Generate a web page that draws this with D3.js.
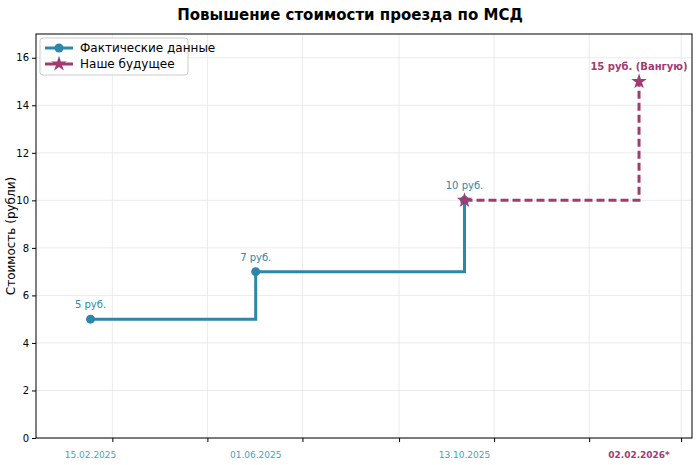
<!DOCTYPE html>
<html><head><meta charset="utf-8">
<script src="https://cdn.jsdelivr.net/npm/d3@7"></script>
<style>body{margin:0;background:#fff;font-family:"DejaVu Sans",sans-serif}</style>
</head><body><div id="chart"></div>
<script>
const factDates = ["2025-02-15", "2025-06-01", "2025-10-13"];
const factPrices = [5, 7, 10];
const factLabels = ["5 руб.", "7 руб.", "10 руб."];
const futureDates = ["2025-10-13", "2026-02-02"];
const futurePrices = [10, 15];
const futureLabel = "15 руб. (Вангую)";
const dateLabels = ["15.02.2025", "01.06.2025", "13.10.2025", "02.02.2026*"];
const yTicks = [0, 2, 4, 6, 8, 10, 12, 14, 16];

const blue = "#2e86ab", purple = "#a23b72";
const W = 700, H = 465, m = {top: 34, right: 8, bottom: 27, left: 36};
const parse = d3.timeParse("%Y-%m-%d");

const svg = d3.select("#chart").append("svg").attr("width", W).attr("height", H);
const x = d3.scaleTime().domain([parse("2025-01-11"), parse("2026-03-08")]).range([m.left, W - m.right]);
const y = d3.scaleLinear().domain([0, 17]).range([H - m.bottom, m.top]);

const xTickDates = d3.timeMonth.every(2).range(parse("2025-02-01"), parse("2026-04-01")).filter(d => d.getMonth() % 2 === 0);

// grid
svg.append("g").selectAll("line").data(xTickDates).join("line")
  .attr("x1", d => x(d)).attr("x2", d => x(d)).attr("y1", m.top).attr("y2", H - m.bottom)
  .attr("stroke", "#e6e6e6").attr("stroke-width", 0.8);
svg.append("g").selectAll("line").data(yTicks).join("line")
  .attr("x1", m.left).attr("x2", W - m.right).attr("y1", d => y(d)).attr("y2", d => y(d))
  .attr("stroke", "#e6e6e6").attr("stroke-width", 0.8);

svg.append("g").attr("transform", `translate(0,${H - m.bottom})`)
  .call(d3.axisBottom(x).tickValues(xTickDates).tickFormat("").tickSizeOuter(0).tickSize(4))
  .call(g => g.select(".domain").remove());
svg.append("g").attr("transform", `translate(${m.left},0)`)
  .call(d3.axisLeft(y).tickValues(yTicks).tickSizeOuter(0).tickSize(4))
  .call(g => g.select(".domain").remove())
  .call(g => g.selectAll("text").attr("font-size", 10).attr("fill", "#000").attr("font-family", "DejaVu Sans"));

svg.append("rect").attr("x", m.left).attr("y", m.top).attr("width", W - m.left - m.right)
  .attr("height", H - m.top - m.bottom).attr("fill", "none").attr("stroke", "#000").attr("stroke-width", 1);

const fact = factDates.map((d, i) => ({d: parse(d), v: factPrices[i], l: factLabels[i]}));
const fut = futureDates.map((d, i) => ({d: parse(d), v: futurePrices[i]}));
const line = d3.line().x(p => x(p.d)).y(p => y(p.v)).curve(d3.curveStepAfter);

svg.append("path").datum(fact).attr("d", line).attr("fill", "none").attr("stroke", blue).attr("stroke-width", 3);
svg.append("path").datum(fut).attr("d", line).attr("fill", "none").attr("stroke", purple)
  .attr("stroke-width", 3).attr("stroke-dasharray", "8,4");

svg.selectAll(".pt").data(fact).join("circle").attr("cx", p => x(p.d)).attr("cy", p => y(p.v)).attr("r", 4.5).attr("fill", blue);
const star = d3.symbol().type(d3.symbolStar).size(75);
svg.selectAll(".st").data(fut).join("path").attr("d", star)
  .attr("transform", p => `translate(${x(p.d)},${y(p.v)})`).attr("fill", purple);

svg.selectAll(".lb").data(fact).join("text").attr("x", p => x(p.d)).attr("y", p => y(p.v) - 11)
  .attr("text-anchor", "middle").attr("font-size", 10).attr("fill", blue).text(p => p.l);
svg.append("text").attr("x", x(fut[1].d)).attr("y", y(fut[1].v) - 12).attr("text-anchor", "middle")
  .attr("font-size", 10).attr("font-weight", "bold").attr("fill", purple).text(futureLabel);

const allDates = factDates.concat([futureDates[1]]);
svg.selectAll(".dl").data(dateLabels).join("text").attr("x", (d, i) => x(parse(allDates[i])))
  .attr("y", H - 7).attr("text-anchor", "middle").attr("font-size", 9)
  .attr("fill", (d, i) => i === 3 ? purple : "#4a9fc8").attr("font-weight", (d, i) => i === 3 ? "bold" : "normal")
  .text(d => d);

svg.append("text").attr("x", W / 2).attr("y", 20).attr("text-anchor", "middle").attr("font-size", 15)
  .attr("font-weight", "bold").text("Повышение стоимости проезда по МСД");
svg.append("text").attr("transform", `translate(15,${(m.top + H - m.bottom) / 2}) rotate(-90)`)
  .attr("text-anchor", "middle").attr("font-size", 12).text("Стоимость (рубли)");

// legend
const lg = svg.append("g").attr("transform", `translate(40,38)`);
lg.append("rect").attr("width", 148).attr("height", 37).attr("rx", 3).attr("fill", "#fff").attr("fill-opacity", 0.85).attr("stroke", "#ccc");
[["Фактические данные", blue, "c"], ["Наше будущее", purple, "s"]].forEach(([t, c, k], i) => {
  const yy = 10 + i * 16;
  lg.append("line").attr("x1", 5).attr("x2", 33).attr("y1", yy).attr("y2", yy).attr("stroke", c).attr("stroke-width", 3);
  if (k === "c") lg.append("circle").attr("cx", 19).attr("cy", yy).attr("r", 4.5).attr("fill", c);
  else lg.append("path").attr("d", star).attr("transform", `translate(19,${yy})`).attr("fill", c);
  lg.append("text").attr("x", 40).attr("y", yy + 4).attr("font-size", 12).text(t);
});
</script></body></html>
